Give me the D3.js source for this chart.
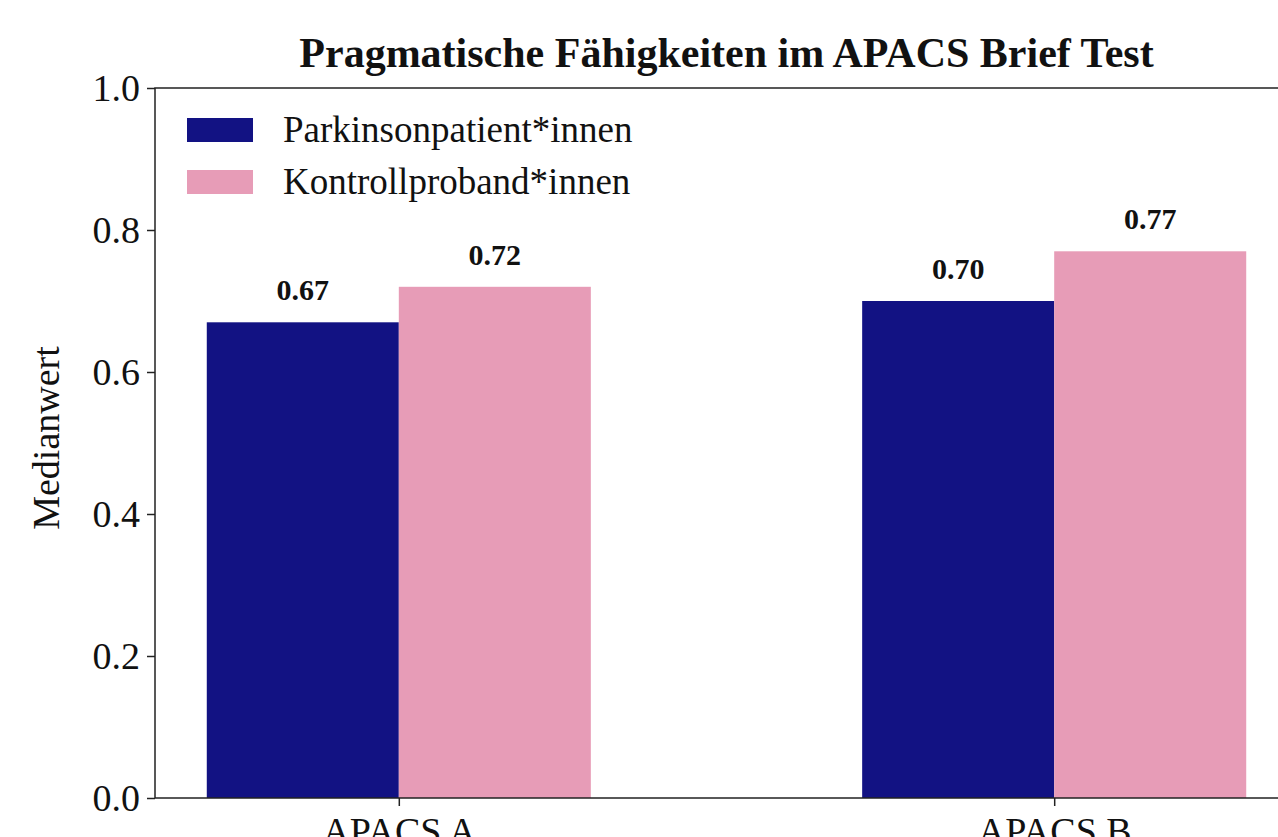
<!DOCTYPE html>
<html>
<head>
<meta charset="utf-8">
<script src="https://cdn.jsdelivr.net/npm/d3@7"></script>
<style>
  body { margin: 0; background: #fff; }
  svg text { font-family: "Liberation Serif", "DejaVu Serif", serif; fill: #111; }
</style>
</head>
<body>
<svg id="chart" width="1278" height="837"></svg>
<script>
// data
var categories = ["APACS A", "APACS B"];
var seriesNames = ["Parkinsonpatient*innen", "Kontrollproband*innen"];
var patients = [0.67, 0.70];
var controls = [0.72, 0.77];
var yTicks = [0.0, 0.2, 0.4, 0.6, 0.8, 1.0];
var colors = ["#121283", "#e79cb7"];

var svg = d3.select("#chart");
var barW = 0.293;

// x in "category units" like matplotlib, cropped on the right
var x = d3.scaleLinear().domain([-barW - 0.079, 1 + barW + 0.079]).range([155, 1298]);
var y = d3.scaleLinear().domain([0, 1]).range([798, 88]);

var series = [patients, controls];

// bars + value labels
series.forEach(function(vals, s){
  svg.append("g").selectAll("rect")
    .data(vals)
    .enter()
    .append("rect")
    .attr("x", function(d, i){ return x(i + (s - 1) * barW); })
    .attr("width", x(barW) - x(0))
    .attr("y", function(d){ return y(d); })
    .attr("height", function(d){ return y(0) - y(d); })
    .attr("fill", colors[s]);

  svg.append("g").selectAll("text")
    .data(vals)
    .enter()
    .append("text")
    .attr("x", function(d, i){ return x(i + (s - 0.5) * barW); })
    .attr("y", function(d){ return y(d) - 22; })
    .attr("text-anchor", "middle")
    .style("font-size", "30px")
    .style("font-weight", "bold")
    .text(function(d){ return d.toFixed(2); });
});

// y axis
var yAxis = d3.axisLeft(y).tickValues(yTicks).tickFormat(d3.format(".1f")).tickSize(8).tickPadding(7);
var gy = svg.append("g").attr("transform", "translate(155,0)").call(yAxis);
gy.select(".domain").remove();
gy.selectAll(".tick line").attr("stroke", "#222").attr("stroke-width", 1.5);
gy.selectAll(".tick text").style("font-size", "38px").attr("dy", "0.33em");

// x axis
var xAxis = d3.axisBottom(x).tickValues([0, 1]).tickFormat(function(d){ return categories[d]; }).tickSize(8).tickPadding(11);
var gx = svg.append("g").attr("transform", "translate(0,798)").call(xAxis);
gx.select(".domain").remove();
gx.selectAll(".tick line").attr("stroke", "#222").attr("stroke-width", 1.5);
gx.selectAll(".tick text").style("font-size", "38px");

// spines
svg.append("rect")
  .attr("x", 155).attr("y", 88)
  .attr("width", x.range()[1] - 155).attr("height", 798 - 88)
  .attr("fill", "none").attr("stroke", "#222").attr("stroke-width", 1.5);

// title
svg.append("text")
  .attr("x", (155 + x.range()[1]) / 2)
  .attr("y", 67)
  .attr("text-anchor", "middle")
  .style("font-size", "42px")
  .style("font-weight", "bold")
  .text("Pragmatische Fähigkeiten im APACS Brief Test");

// y label
svg.append("text")
  .attr("transform", "translate(59,438) rotate(-90)")
  .attr("text-anchor", "middle")
  .style("font-size", "38px")
  .text("Medianwert");

// legend
var legend = svg.append("g").selectAll("g")
  .data(seriesNames)
  .enter()
  .append("g")
  .attr("transform", function(d, i){ return "translate(187," + (118 + i * 52) + ")"; });
legend.append("rect")
  .attr("width", 66).attr("height", 24)
  .attr("fill", function(d, i){ return colors[i]; });
legend.append("text")
  .attr("x", 96).attr("y", 12).attr("dy", "0.33em")
  .style("font-size", "37px")
  .text(function(d){ return d; });
</script>
</body>
</html>
